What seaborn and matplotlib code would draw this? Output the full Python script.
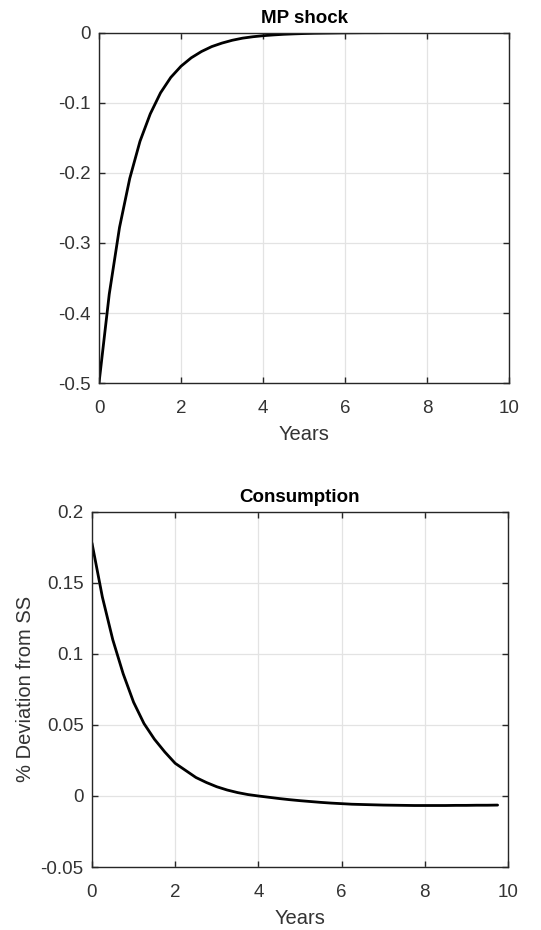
import numpy as np
import pandas as pd
import matplotlib
matplotlib.use("Agg")
import matplotlib.pyplot as plt
import seaborn as sns

years = [q * 0.25 for q in range(40)]

mp_shock = [-0.5, -0.373, -0.278, -0.208, -0.155, -0.116, -0.086, -0.064,
            -0.048, -0.036, -0.027, -0.020, -0.015, -0.011, -0.008, -0.006,
            -0.0045, -0.0034, -0.0025, -0.0019, -0.0014, -0.0010, -0.0008, -0.0006,
            -0.0004, -0.0003, -0.0002, -0.0002, -0.0001, -0.0001, -0.0001, 0.0,
            0.0, 0.0, 0.0, 0.0, 0.0, 0.0, 0.0, 0.0]

consumption = [0.178, 0.140, 0.110, 0.086, 0.066, 0.051, 0.040, 0.031,
               0.023, 0.018, 0.013, 0.0095, 0.0065, 0.0042, 0.0024, 0.0010,
               0.0, -0.0009, -0.0018, -0.0026, -0.0033, -0.0039, -0.0045, -0.0050,
               -0.0054, -0.0058, -0.0060, -0.0062, -0.0064, -0.0065, -0.0066, -0.0067,
               -0.0067, -0.0067, -0.0067, -0.0066, -0.0066, -0.0065, -0.0065, -0.0064]

x_ticks = [0, 2, 4, 6, 8, 10]
mp_yticks = [-0.5, -0.4, -0.3, -0.2, -0.1, 0]
mp_ylabels = ["-0.5", "-0.4", "-0.3", "-0.2", "-0.1", "0"]
c_yticks = [-0.05, 0, 0.05, 0.1, 0.15, 0.2]
c_ylabels = ["-0.05", "0", "0.05", "0.1", "0.15", "0.2"]

sns.set_theme(style="white")
plt.rcParams['font.family'] = ['Liberation Sans', 'DejaVu Sans']

df = pd.DataFrame({"Years": years, "mp": mp_shock, "c": consumption})

fig = plt.figure(figsize=(5.41, 9.30), dpi=100)
ax1 = fig.add_axes([0.183, 0.588, 0.758, 0.377])
ax2 = fig.add_axes([0.170, 0.0677, 0.769, 0.382])

edge = "#262626"
tick_col = "#333333"

def style(ax, yticks, ylabels, ylim, title):
    ax.set_xlim(0, 10)
    ax.set_ylim(*ylim)
    ax.set_xticks(x_ticks)
    ax.set_xticklabels([str(t) for t in x_ticks])
    ax.set_yticks(yticks)
    ax.set_yticklabels(ylabels)
    ax.grid(True, color="#e3e3e3", linewidth=0.9)
    ax.set_axisbelow(True)
    for s in ax.spines.values():
        s.set_color(edge)
        s.set_linewidth(1.0)
        s.set_visible(True)
    ax.tick_params(direction="in", length=4, width=1.0, color=edge,
                   top=True, right=True, bottom=True, left=True,
                   labelsize=13.5, labelcolor=tick_col)
    ax.tick_params(axis="x", pad=12)
    ax.tick_params(axis="y", pad=6)
    ax.set_xlabel("Years", fontsize=14.5, color=tick_col, labelpad=6)
    ax.set_title(title, fontsize=13.5, fontweight="bold", color="black", pad=7)

sns.lineplot(data=df, x="Years", y="mp", ax=ax1, color="black", linewidth=2.0)
style(ax1, mp_yticks, mp_ylabels, (-0.5, 0), "MP shock")
ax1.set_ylabel("")

sns.lineplot(data=df, x="Years", y="c", ax=ax2, color="black", linewidth=2.0)
style(ax2, c_yticks, c_ylabels, (-0.05, 0.2), "Consumption")
ax2.set_ylabel("% Deviation from SS", fontsize=14.5, color=tick_col, labelpad=4)

fig.savefig("out.png", dpi=100, facecolor="white")
